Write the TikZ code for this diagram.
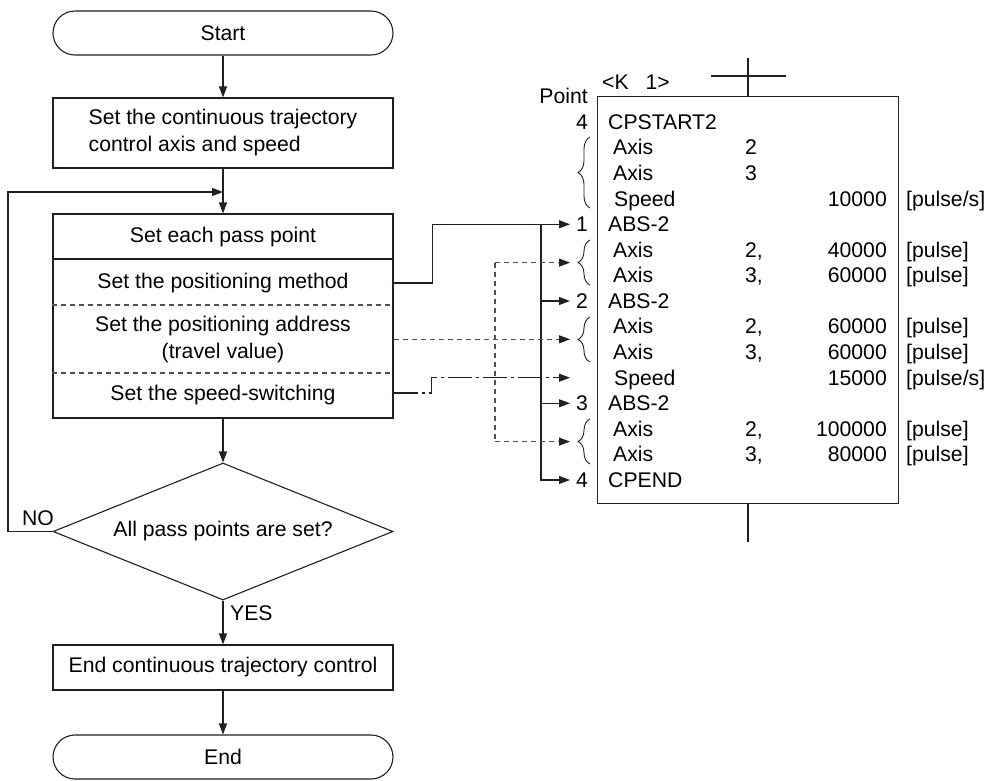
\documentclass[tikz,border=0pt]{standalone}
\usepackage{fontspec}
\setmainfont{Liberation Sans}
\usetikzlibrary{arrows.meta,shapes.geometric,decorations.pathreplacing,calc}
\definecolor{lc}{RGB}{35,31,32}
\definecolor{dc}{RGB}{80,80,80}
\newcommand\dfont{\fontsize{21.2}{27}\selectfont}
\begin{document}
\begin{tikzpicture}[x=1pt,y=-1pt,
  ln/.style={draw=lc, line width=1.1pt},
  arr/.style={-{Triangle[length=11pt,width=8pt,color=lc]}},
  box/.style={ln, minimum width=340pt, inner sep=0pt, font=\dfont},
  term/.style={box, rounded corners=22pt, minimum height=44pt},
  txt/.style={font=\dfont, inner sep=0pt},
  dsh/.style={draw=dc, line width=1.1pt, dash pattern=on 5pt off 4pt},
  ddot/.style={dash pattern=on 24pt off 4pt on 3pt off 4pt},
  num/.style={txt, anchor=base east},
  cmd/.style={txt, anchor=base west},
  valn/.style={txt, anchor=base east},
  unit/.style={txt, anchor=base west},
  brc/.style={draw=lc, line width=0.9pt, decorate, decoration={brace, amplitude=12pt, aspect=0.5}}
]
\useasboundingbox (0,0) rectangle (988,780);

% ---------- flowchart ----------
\node[term] (start) at (223,33) {Start};
\node[box, minimum height=70pt, align=left] (b1) at (223,133)
  {Set the continuous trajectory\\control axis and speed};
\node[box, minimum height=204pt] (b2) at (223,316) {};
\node[txt] (t1) at (223,237) {Set each pass point};
\node[txt] (t2) at (223,283) {Set the positioning method};
\node[txt, align=center] (t3) at (223,340) {Set the positioning address\\(travel value)};
\node[txt] (t4) at (223,395) {Set the speed-switching};
\draw[ln] (b2.west |- 0,259) -- (b2.east |- 0,259);
\draw[dsh] (b2.west |- 0,305) -- (b2.east |- 0,305);
\draw[dsh] (b2.west |- 0,373) -- (b2.east |- 0,373);

\node[diamond, ln, aspect=2.48, minimum width=340pt, minimum height=137pt,
      inner sep=0pt, font=\dfont] (dec) at (223,531.5) {All pass points are set?};
\node[box, minimum height=45pt] (b3) at (223,667.5) {End continuous trajectory control};
\node[term] (end) at (223,757) {End};

\draw[ln,arr] (start.south) -- (b1.north);
\draw[ln,arr] (b1.south) -- (b2.north);
\draw[ln,arr] (b2.south) -- (dec.north);
\draw[ln,arr] (dec.south) -- (b3.north);
\draw[ln,arr] (b3.south) -- (end.north);

\coordinate (lp) at (8,192);
\coordinate (lend) at (223,192);
\draw[ln,arr] (dec.west) -| (lp) -- (lend);
\node[txt] (no) at (38,518) {NO};
\node[txt, anchor=west] (yes) at (230,613) {YES};

% ---------- program panel ----------
\node[ln, anchor=north west, minimum width=301pt, minimum height=407pt, inner sep=0pt] (panel) at (597,96) {};
\coordinate (rt) at (748,58);
\coordinate (rb) at (748,542);
\coordinate (hl) at (711,76);
\coordinate (hr) at (786,76);
\draw[ln] (rt) -- (rt |- panel.north);
\draw[ln] (hl) -- (hr);
\draw[ln] (rb |- panel.south) -- (rb);
\node[txt, anchor=base west] (klabel) at (602,89) {<K\hspace{17pt}1>};
\node[num] (pointlbl) at (588,103) {Point};

% rows: baseline = 129.3 + 25.57*i
\node[num] (n0) at (588,129.3) {4};
\node[cmd] (c0) at (608,129.3) {CPSTART2};
\node[cmd] (c1) at (613,154.87) {Axis};
\node[cmd] (d1) at (745,154.87) {2};
\node[cmd] (c2) at (613,180.44) {Axis};
\node[cmd] (d2) at (745,180.44) {3};
\node[cmd] (c3) at (614,206.01) {Speed};
\node[valn] (v3) at (887,206.01) {10000};
\node[unit] (u3) at (906,206.01) {[pulse/s]};

\node[num] (n4) at (588,231.58) {1};
\node[cmd] (c4) at (608,231.58) {ABS-2};
\node[cmd] (c5) at (613,257.15) {Axis};
\node[cmd] (d5) at (745,257.15) {2,};
\node[valn] (v5) at (887,257.15) {40000};
\node[unit] (u5) at (906,257.15) {[pulse]};
\node[cmd] (c6) at (613,282.72) {Axis};
\node[cmd] (d6) at (745,282.72) {3,};
\node[valn] (v6) at (887,282.72) {60000};
\node[unit] (u6) at (906,282.72) {[pulse]};

\node[num] (n7) at (588,308.29) {2};
\node[cmd] (c7) at (608,308.29) {ABS-2};
\node[cmd] (c8) at (613,333.86) {Axis};
\node[cmd] (d8) at (745,333.86) {2,};
\node[valn] (v8) at (887,333.86) {60000};
\node[unit] (u8) at (906,333.86) {[pulse]};
\node[cmd] (c9) at (613,359.43) {Axis};
\node[cmd] (d9) at (745,359.43) {3,};
\node[valn] (v9) at (887,359.43) {60000};
\node[unit] (u9) at (906,359.43) {[pulse]};
\node[cmd] (c10) at (614,385.0) {Speed};
\node[valn] (v10) at (887,385.0) {15000};
\node[unit] (u10) at (906,385.0) {[pulse/s]};

\node[num] (n11) at (588,410.57) {3};
\node[cmd] (c11) at (608,410.57) {ABS-2};
\node[cmd] (c12) at (613,436.14) {Axis};
\node[cmd] (d12) at (745,436.14) {2,};
\node[valn] (v12) at (887,436.14) {100000};
\node[unit] (u12) at (906,436.14) {[pulse]};
\node[cmd] (c13) at (613,461.71) {Axis};
\node[cmd] (d13) at (745,461.71) {3,};
\node[valn] (v13) at (887,461.71) {80000};
\node[unit] (u13) at (906,461.71) {[pulse]};

\node[num] (n14) at (588,487.28) {4};
\node[cmd] (c14) at (608,487.28) {CPEND};

% braces
\draw[brc] (590,208) -- (590,137);
\draw[brc] (590,285) -- (590,240);
\draw[brc] (590,362) -- (590,317);
\draw[brc] (590,464) -- (590,419);

% ---------- connectors ----------
\coordinate (a4) at (570,224.28);
\coordinate (a7) at (570,300.99);
\coordinate (a11) at (570,403.27);
\coordinate (a14) at (570,479.98);
\coordinate (bt) at (541,224.28);
\coordinate (a56) at (570,262.6);
\coordinate (a89) at (570,339.3);
\coordinate (a1213) at (570,441.6);
\coordinate (a10) at (570,377.7);
\coordinate (v1) at (495,262.6);
\coordinate (v2) at (495,441.6);

\draw[ln,arr] (t2 -| b2.east) -- ++(39,0) |- (a4);
\draw[ln,arr] (bt) |- (a14);
\draw[ln,arr] (a7 -| bt) -- (a7);
\draw[ln,arr] (a11 -| bt) -- (a11);

\draw[dsh,arr] (b2.east |- a89) -- (a89);
\draw[dsh] (v1) -- (v2);
\draw[dsh,arr] (v1) -- (a56);
\draw[dsh,arr] (v2) -- (a1213);

\draw[ln,ddot,arr] (b2.east |- 0,393) -- ++(38,0) |- (a10);
\end{tikzpicture}
\end{document}
